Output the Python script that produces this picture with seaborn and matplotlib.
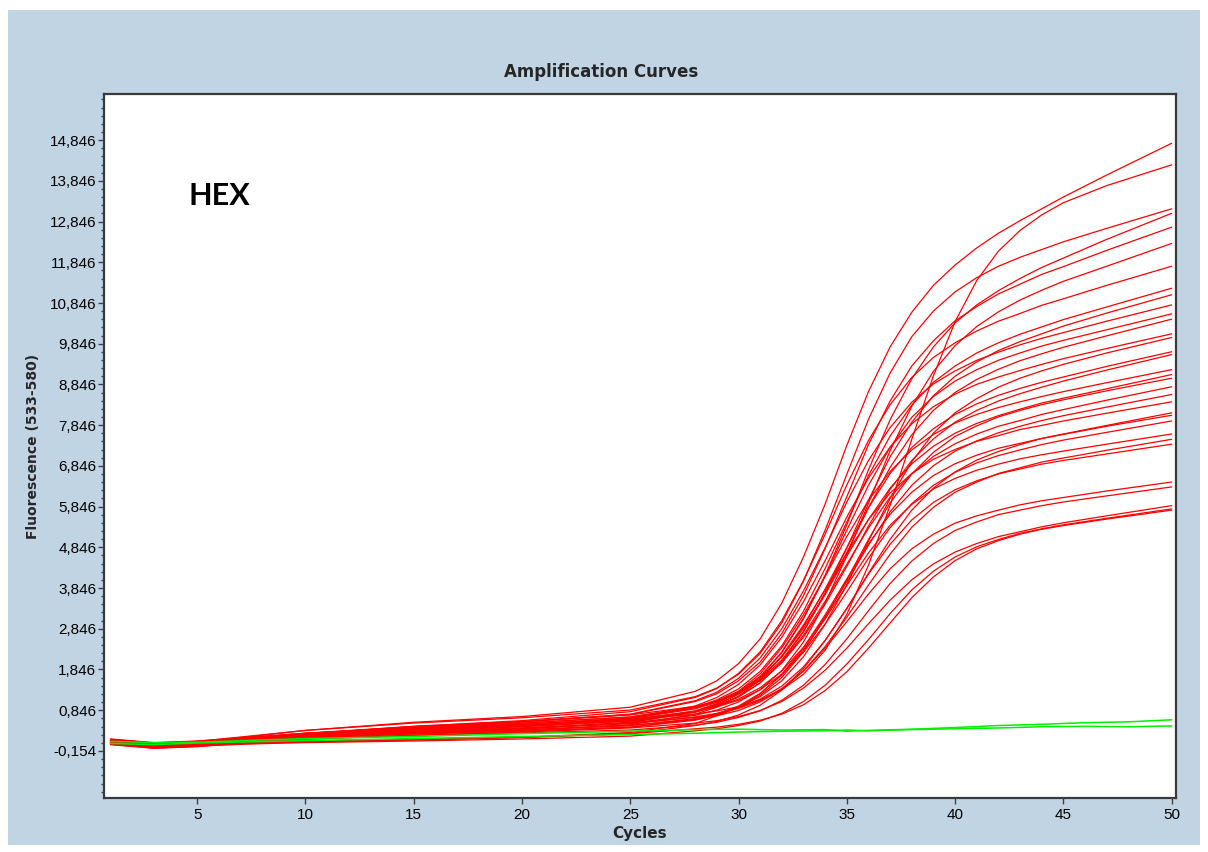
import numpy as np
import pandas as pd
import matplotlib
matplotlib.use("Agg")
import matplotlib.pyplot as plt
from matplotlib.patches import Rectangle
from matplotlib.ticker import FixedLocator
import seaborn as sns

# ---------------- data ----------------
cycles_red = [1, 3, 5, 10, 15, 20, 25, 28, 29, 30, 31, 32, 33, 34, 35, 36, 37, 38, 39, 40,
              41, 42, 43, 44, 45, 47, 50]

red_01 = [0.10, 0.01, 0.05, 0.35, 0.55, 0.69, 0.92, 1.31, 1.57, 1.99, 2.60, 3.48, 4.61, 5.91, 7.35, 8.67, 9.77, 10.62, 11.28, 11.78, 12.20, 12.56, 12.87, 13.16, 13.45, 13.99, 14.77]
red_02 = [0.05, -0.04, 0.00, 0.23, 0.37, 0.48, 0.61, 0.75, 0.83, 0.93, 1.10, 1.35, 1.73, 2.32, 3.20, 4.41, 5.88, 7.50, 9.06, 10.39, 11.40, 12.12, 12.63, 13.01, 13.31, 13.73, 14.24]
red_03 = [0.13, 0.04, 0.08, 0.35, 0.53, 0.66, 0.85, 1.18, 1.39, 1.73, 2.24, 2.99, 4.02, 5.27, 6.64, 7.99, 9.13, 10.02, 10.65, 11.12, 11.47, 11.75, 11.97, 12.16, 12.35, 12.68, 13.16]
red_04 = [0.03, -0.06, -0.02, 0.22, 0.36, 0.48, 0.64, 0.88, 1.04, 1.29, 1.68, 2.26, 3.09, 4.16, 5.40, 6.75, 7.98, 8.99, 9.77, 10.36, 10.80, 11.15, 11.45, 11.72, 11.95, 12.41, 13.05]
red_05 = [0.08, -0.01, 0.03, 0.28, 0.45, 0.57, 0.74, 1.06, 1.25, 1.57, 2.03, 2.73, 3.66, 4.82, 6.09, 7.37, 8.44, 9.30, 9.92, 10.41, 10.76, 11.07, 11.31, 11.55, 11.74, 12.14, 12.71]
red_06 = [0.11, 0.02, 0.06, 0.23, 0.33, 0.41, 0.53, 0.72, 0.85, 1.05, 1.35, 1.82, 2.52, 3.48, 4.64, 5.93, 7.22, 8.31, 9.17, 9.80, 10.27, 10.63, 10.92, 11.16, 11.38, 11.75, 12.31]
red_07 = [0.01, -0.08, -0.04, 0.26, 0.45, 0.59, 0.81, 1.16, 1.38, 1.75, 2.28, 3.05, 4.03, 5.17, 6.38, 7.47, 8.35, 9.02, 9.51, 9.87, 10.16, 10.40, 10.59, 10.79, 10.95, 11.28, 11.75]
red_08 = [0.07, -0.02, 0.02, 0.24, 0.38, 0.48, 0.64, 0.91, 1.10, 1.37, 1.80, 2.43, 3.28, 4.33, 5.47, 6.61, 7.58, 8.34, 8.90, 9.30, 9.62, 9.87, 10.08, 10.26, 10.44, 10.75, 11.21]
red_09 = [0.12, 0.03, 0.07, 0.25, 0.37, 0.45, 0.58, 0.80, 0.95, 1.17, 1.52, 2.04, 2.77, 3.73, 4.83, 6.01, 7.07, 7.92, 8.57, 9.05, 9.40, 9.68, 9.90, 10.09, 10.28, 10.60, 11.05]
red_10 = [0.05, -0.04, 0.00, 0.27, 0.43, 0.56, 0.75, 1.08, 1.29, 1.63, 2.13, 2.85, 3.78, 4.84, 5.96, 6.98, 7.79, 8.41, 8.86, 9.18, 9.44, 9.64, 9.82, 9.98, 10.12, 10.40, 10.80]
red_11 = [0.02, -0.07, -0.03, 0.17, 0.30, 0.39, 0.54, 0.80, 0.97, 1.25, 1.65, 2.28, 3.11, 4.14, 5.27, 6.37, 7.30, 8.04, 8.55, 8.93, 9.21, 9.44, 9.62, 9.79, 9.93, 10.19, 10.58]
red_12 = [0.09, 0.00, 0.04, 0.27, 0.42, 0.53, 0.68, 0.91, 1.05, 1.26, 1.59, 2.08, 2.79, 3.69, 4.72, 5.82, 6.81, 7.61, 8.21, 8.65, 8.97, 9.22, 9.43, 9.60, 9.76, 10.04, 10.45]
red_13 = [0.14, 0.05, 0.09, 0.28, 0.41, 0.50, 0.65, 0.95, 1.16, 1.48, 1.96, 2.64, 3.51, 4.52, 5.59, 6.55, 7.31, 7.88, 8.30, 8.61, 8.85, 9.03, 9.19, 9.34, 9.48, 9.73, 10.09]
red_14 = [0.04, -0.05, -0.01, 0.16, 0.28, 0.36, 0.47, 0.64, 0.76, 0.92, 1.18, 1.57, 2.16, 2.96, 3.93, 5.00, 6.05, 6.95, 7.65, 8.15, 8.50, 8.78, 9.00, 9.18, 9.34, 9.62, 10.00]
red_15 = [0.10, 0.01, 0.05, 0.24, 0.36, 0.45, 0.59, 0.83, 0.99, 1.24, 1.61, 2.16, 2.91, 3.82, 4.84, 5.82, 6.66, 7.30, 7.76, 8.11, 8.37, 8.58, 8.75, 8.90, 9.03, 9.29, 9.65]
red_16 = [0.06, -0.03, 0.01, 0.27, 0.44, 0.56, 0.73, 0.94, 1.07, 1.27, 1.57, 2.01, 2.64, 3.45, 4.38, 5.37, 6.27, 6.98, 7.51, 7.92, 8.21, 8.44, 8.62, 8.78, 8.93, 9.20, 9.58]
red_17 = [0.00, -0.09, -0.05, 0.16, 0.29, 0.39, 0.55, 0.82, 1.01, 1.31, 1.74, 2.38, 3.19, 4.13, 5.11, 6.00, 6.71, 7.24, 7.62, 7.90, 8.11, 8.28, 8.42, 8.55, 8.67, 8.89, 9.21]
red_18 = [0.11, 0.02, 0.06, 0.28, 0.43, 0.53, 0.68, 0.93, 1.08, 1.31, 1.65, 2.16, 2.86, 3.70, 4.63, 5.53, 6.30, 6.90, 7.33, 7.65, 7.89, 8.08, 8.24, 8.39, 8.51, 8.74, 9.09]
red_19 = [0.08, -0.01, 0.03, 0.17, 0.26, 0.33, 0.43, 0.60, 0.73, 0.91, 1.21, 1.65, 2.29, 3.11, 4.05, 5.04, 5.94, 6.65, 7.18, 7.57, 7.83, 8.05, 8.21, 8.35, 8.47, 8.69, 9.00]
red_20 = [0.03, -0.06, -0.02, 0.20, 0.33, 0.44, 0.58, 0.81, 0.96, 1.18, 1.52, 2.02, 2.69, 3.52, 4.43, 5.32, 6.08, 6.65, 7.08, 7.39, 7.63, 7.82, 7.96, 8.11, 8.23, 8.46, 8.79]
red_21 = [0.13, 0.04, 0.08, 0.28, 0.40, 0.50, 0.62, 0.82, 0.94, 1.12, 1.40, 1.81, 2.39, 3.14, 4.00, 4.90, 5.72, 6.37, 6.85, 7.21, 7.46, 7.66, 7.82, 7.96, 8.08, 8.29, 8.60]
red_22 = [0.05, -0.04, 0.00, 0.17, 0.28, 0.36, 0.49, 0.75, 0.92, 1.19, 1.59, 2.18, 2.94, 3.80, 4.70, 5.53, 6.18, 6.66, 7.01, 7.25, 7.45, 7.59, 7.74, 7.84, 7.95, 8.14, 8.42]
red_23 = [0.09, 0.00, 0.04, 0.21, 0.32, 0.41, 0.52, 0.68, 0.77, 0.91, 1.12, 1.44, 1.91, 2.56, 3.34, 4.21, 5.04, 5.76, 6.30, 6.70, 6.99, 7.20, 7.37, 7.52, 7.63, 7.84, 8.15]
red_24 = [0.02, -0.07, -0.03, 0.06, 0.12, 0.18, 0.30, 0.52, 0.71, 0.92, 1.25, 1.73, 2.38, 3.19, 4.07, 4.93, 5.66, 6.20, 6.61, 6.90, 7.11, 7.28, 7.40, 7.52, 7.62, 7.82, 8.09]
red_25 = [0.07, -0.02, 0.02, 0.24, 0.38, 0.48, 0.62, 0.81, 0.93, 1.09, 1.35, 1.73, 2.27, 2.96, 3.75, 4.58, 5.33, 5.92, 6.37, 6.69, 6.92, 7.10, 7.24, 7.37, 7.48, 7.67, 7.95]
red_26 = [0.12, 0.03, 0.07, 0.20, 0.27, 0.33, 0.43, 0.62, 0.75, 0.95, 1.26, 1.71, 2.33, 3.09, 3.91, 4.71, 5.39, 5.90, 6.28, 6.54, 6.74, 6.89, 7.02, 7.12, 7.21, 7.38, 7.63]
red_27 = [0.04, -0.05, -0.01, 0.18, 0.31, 0.40, 0.52, 0.67, 0.75, 0.89, 1.08, 1.38, 1.81, 2.41, 3.13, 3.92, 4.68, 5.34, 5.83, 6.20, 6.45, 6.66, 6.80, 6.94, 7.04, 7.23, 7.50]
red_28 = [0.10, 0.01, 0.05, 0.08, 0.12, 0.18, 0.27, 0.47, 0.57, 0.73, 0.97, 1.34, 1.87, 2.56, 3.35, 4.19, 4.92, 5.52, 5.95, 6.26, 6.48, 6.65, 6.77, 6.89, 6.98, 7.14, 7.38]
red_29 = [0.05, -0.04, 0.00, 0.17, 0.28, 0.36, 0.47, 0.62, 0.71, 0.84, 1.05, 1.36, 1.81, 2.37, 3.02, 3.70, 4.32, 4.81, 5.17, 5.44, 5.62, 5.76, 5.89, 5.99, 6.07, 6.23, 6.45]
red_30 = [0.08, -0.01, 0.03, 0.15, 0.23, 0.29, 0.36, 0.48, 0.55, 0.67, 0.83, 1.09, 1.46, 1.97, 2.60, 3.29, 3.96, 4.51, 4.94, 5.26, 5.47, 5.65, 5.76, 5.87, 5.96, 6.11, 6.33]
red_31 = [0.01, -0.08, -0.04, 0.13, 0.23, 0.31, 0.41, 0.53, 0.59, 0.69, 0.84, 1.06, 1.39, 1.83, 2.37, 2.97, 3.55, 4.05, 4.44, 4.73, 4.94, 5.11, 5.23, 5.35, 5.45, 5.62, 5.87]
red_32 = [0.07, -0.02, 0.02, 0.05, 0.09, 0.14, 0.21, 0.34, 0.39, 0.47, 0.58, 0.77, 1.06, 1.46, 1.98, 2.58, 3.22, 3.80, 4.26, 4.61, 4.86, 5.04, 5.19, 5.30, 5.40, 5.56, 5.79]
red_33 = [0.06, -0.03, 0.01, 0.07, 0.12, 0.18, 0.27, 0.39, 0.43, 0.50, 0.60, 0.75, 0.98, 1.33, 1.79, 2.37, 2.99, 3.61, 4.12, 4.52, 4.81, 5.01, 5.17, 5.29, 5.38, 5.54, 5.76]

cycles_green = [1, 3, 5, 10, 15, 20, 25, 28, 30, 32, 34, 35, 36, 38, 40, 42, 44, 46, 48, 50]
green_01 = [0.08, 0.05, 0.06, 0.15, 0.20, 0.27, 0.33, 0.37, 0.38, 0.36, 0.37, 0.33, 0.35, 0.38, 0.42, 0.47, 0.50, 0.54, 0.56, 0.61]
green_02 = [0.03, 0.00, 0.04, 0.10, 0.15, 0.20, 0.25, 0.28, 0.31, 0.33, 0.34, 0.36, 0.34, 0.37, 0.39, 0.41, 0.44, 0.45, 0.44, 0.46]

y_ticks = [-0.154, 0.846, 1.846, 2.846, 3.846, 4.846, 5.846, 6.846, 7.846,
           8.846, 9.846, 10.846, 11.846, 12.846, 13.846, 14.846]
y_tick_labels = ["-0,154", "0,846", "1,846", "2,846", "3,846", "4,846", "5,846", "6,846",
                 "7,846", "8,846", "9,846", "10,846", "11,846", "12,846", "13,846", "14,846"]
x_ticks = [5, 10, 15, 20, 25, 30, 35, 40, 45, 50]
x_tick_labels = ["5", "10", "15", "20", "25", "30", "35", "40", "45", "50"]

title_text = "Amplification Curves"
x_label = "Cycles"
y_label = "Fluorescence (533-580)"
dye_text = "HEX"

red_curves = [red_01, red_02, red_03, red_04, red_05, red_06, red_07, red_08, red_09, red_10,
              red_11, red_12, red_13, red_14, red_15, red_16, red_17, red_18, red_19, red_20,
              red_21, red_22, red_23, red_24, red_25, red_26, red_27, red_28, red_29, red_30,
              red_31, red_32, red_33]
green_curves = [green_01, green_02]

rows = []
for i, vals in enumerate(red_curves):
    assert len(vals) == len(cycles_red), i
    for c, v in zip(cycles_red, vals):
        rows.append(("R%02d" % (i + 1), "HEX", c, v))
for i, vals in enumerate(green_curves):
    assert len(vals) == len(cycles_green), i
    for c, v in zip(cycles_green, vals):
        rows.append(("G%02d" % (i + 1), "NEG", c, v))
df = pd.DataFrame(rows, columns=["well", "dye", "cycle", "fluor"])

# ---------------- style ----------------
sns.set_theme(style="white")
plt.rcParams["font.family"] = ["Liberation Sans", "DejaVu Sans"]

W, H = 1208, 852
fig = plt.figure(figsize=(W / 100, H / 100), dpi=100)
fig.patch.set_facecolor("white")
fig.patches.append(Rectangle((8 / W, 1 - 845 / H), 1192 / W, 835 / H,
                             transform=fig.transFigure, facecolor="#c1d4e4",
                             edgecolor="none", zorder=-1))

ax = fig.add_axes([104 / W, 1 - 798 / H, (1176 - 104) / W, (798 - 94) / H])
ax.set_facecolor("white")

sns.lineplot(data=df[df["dye"] == "HEX"], x="cycle", y="fluor", units="well",
             estimator=None, color="#ff0000", lw=0.9, ax=ax, legend=False)
sns.lineplot(data=df[df["dye"] == "NEG"], x="cycle", y="fluor", units="well",
             estimator=None, color="#00f000", lw=1.1, ax=ax, legend=False)

ax.set_xlim(0.7, 50.2)
ax.set_ylim(-1.31, 15.98)

ax.set_xticks(x_ticks, labels=x_tick_labels)
ax.set_yticks(y_ticks, labels=y_tick_labels)
ax.yaxis.set_minor_locator(FixedLocator(np.arange(-1.154, 15.95, 0.2)))
ax.tick_params(axis="both", which="major", direction="out", length=4, width=1,
               color="#404040", labelsize=11, labelcolor="black", pad=1.5)
ax.tick_params(axis="y", which="minor", direction="out", length=2.2, width=1,
               color="#404040", left=True)
ax.tick_params(axis="x", which="major", pad=3, bottom=True)
ax.tick_params(axis="y", which="major", left=True)

for sp in ax.spines.values():
    sp.set_color("#3a3a3a")
    sp.set_linewidth(1.6)

ax.set_xlabel(x_label, fontsize=11, fontweight="bold", family="DejaVu Sans", labelpad=3)
ax.set_ylabel(y_label, fontsize=10, fontweight="bold", family="DejaVu Sans", va="center")
ax.yaxis.set_label_coords(-0.066, 0.5)

fig.text(601 / W, 1 - 72 / H, title_text, ha="center", va="center",
         fontsize=12, fontweight="bold", family="DejaVu Sans")

ax.text(0.0784, 0.842, dye_text, transform=ax.transAxes, ha="left", va="baseline",
        fontsize=22, fontweight="bold", family=["Lato", "DejaVu Sans"], color="black")

fig.savefig("out.png", dpi=100, facecolor=fig.get_facecolor())
